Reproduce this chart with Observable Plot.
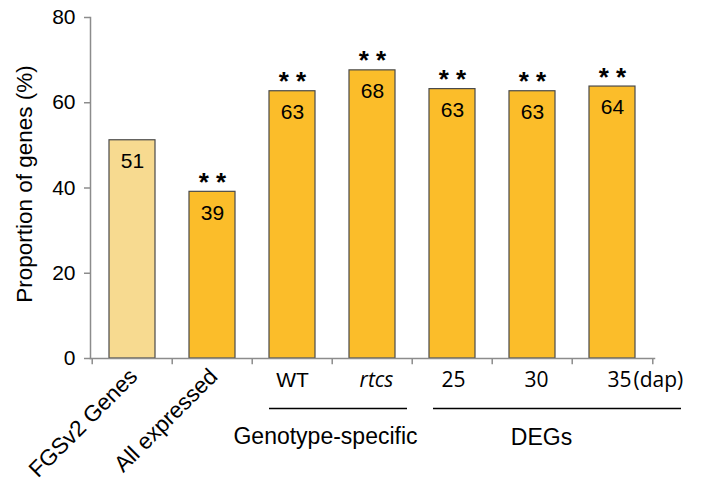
<!DOCTYPE html>
<html><head><meta charset="utf-8">
<script src="https://cdn.jsdelivr.net/npm/d3@7"></script>
<script src="https://cdn.jsdelivr.net/npm/@observablehq/plot@0.6"></script>
<style>body{margin:0;background:#fff}</style>
</head><body><div id="chart"></div>
<script>
const categories = ["FGSv2 Genes","All expressed","WT","rtcs","25","30","35"];
const values = [51.2,39.1,62.7,67.6,63.2,62.7,63.8];
const valueLabels = ["51","39","63","68","63","63","64"];
const significant = [false,true,true,true,true,true,true];
const isBaseline = [true,false,false,false,false,false,false];
const rotatedLabels = ["FGSv2 Genes","All expressed"];
const flatLabels = ["WT","rtcs","25","30","35"];
const italicLabels = ["rtcs"];
const unitLabel = "(dap)";
const groupNames = ["Genotype-specific","DEGs"];
const groupStart = ["WT","25"];
const groupEnd = ["rtcs","35"];
const yTicks = [0,20,40,60,80];
const yLabel = "Proportion of genes (%)";

const W = 702, H = 484, ML = 90, MR = 48, MT = 17, MB = 126;
const step = (W - ML - MR) / categories.length;
const data = categories.map((c,i)=>({cat:c, v:values[i], lab:valueLabels[i], sig:significant[i], base:isBaseline[i]}));
const gray = "#8c8c8c";
const font = "Liberation Sans, Arial, sans-serif";
const numFont = "Open Sans, Liberation Sans, sans-serif";
const flatShift = {"WT": 0, "rtcs": 4, "25": 1, "30": 4, "35": 7};

const flatMarks = flatLabels.map(lab => Plot.text([lab], {
  x: d=>d, y: 0, dy: 22, dx: flatShift[lab], fontSize: 21,
  fontFamily: lab === "WT" ? font : numFont,
  fontStyle: italicLabels.includes(lab) ? "italic" : "normal", fill: "black"
}));

const chart = Plot.plot({
  width: W, height: H,
  marginLeft: ML, marginRight: MR, marginTop: MT, marginBottom: MB,
  style: {fontFamily: font, background: "#fff"},
  x: {domain: categories, paddingInner: 0.42, paddingOuter: 0.21, axis: null},
  y: {domain: [0,80], axis: null},
  marks: [
    Plot.barY(data, {x:"cat", y:"v", fill: d=>d.base ? "#F7DA90" : "#FBBD2A", stroke:"#4a4a4a", strokeWidth:1.2}),
    Plot.frame({anchor:"left", stroke: gray, strokeWidth: 1.5}),
    Plot.frame({anchor:"bottom", stroke: gray, strokeWidth: 1.5}),
    Plot.axisY({ticks: yTicks, tickSize: 6, tickPadding: 9, fontSize: 21, stroke: gray, fill: "black", label: null, strokeWidth: 1.5}),
    Plot.text([yLabel], {frameAnchor:"left", textAnchor:"middle", rotate:-90, dx:-66, dy: -4, fontSize:22.5, fill:"black"}),
    Plot.ruleX(categories, {x: d=>d, y1: 0, y2: -1.45, dx: -step/2, stroke: gray, strokeWidth: 1.5}),
    Plot.ruleX(categories.slice(-1), {x: d=>d, y1: 0, y2: -1.45, dx: step/2, stroke: gray, strokeWidth: 1.5}),
    Plot.text(data, {x:"cat", y:"v", text:"lab", dy: 21, fontSize: 21, fill:"black"}),
    Plot.text(data.filter(d=>d.sig), {x:"cat", y:"v", text: ()=>"* *", lineAnchor:"bottom", dy: -1, fontSize: 26, fontWeight:"bold", fill:"black"}),
    Plot.text(rotatedLabels, {x: d=>d, y: 0, rotate: -45, textAnchor: "end", lineAnchor:"top", dx: -5, dy: 8, fontSize: 22.5, fill:"black"}),
    ...flatMarks,
    Plot.text([unitLabel], {x: ()=>categories[categories.length-1], y: 0, dy: 22, dx: 21, textAnchor:"start", fontSize: 21, fontFamily: numFont, fill:"black"}),
    Plot.ruleY([0], {x1: ()=>groupStart[0], x2: ()=>groupEnd[0], dy: 50, insetRight: -12, stroke:"black", strokeWidth: 1.6}),
    Plot.ruleY([0], {x1: ()=>groupStart[1], x2: ()=>groupEnd[1], dy: 50, insetLeft: 4, insetRight: -46, stroke:"black", strokeWidth: 1.6}),
    Plot.text([0], {x: ()=>groupEnd[0], y: 0, text: ()=>groupNames[0], dx: -47, dy: 78, fontSize: 23, fill:"black"}),
    Plot.text([0], {x: ()=>"30", y: 0, text: ()=>groupNames[1], dx: 9, dy: 79, fontSize: 23, fill:"black"})
  ]
});
document.getElementById("chart").appendChild(chart);
</script>
</body></html>
